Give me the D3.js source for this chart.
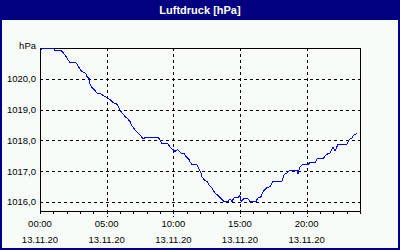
<!DOCTYPE html>
<html>
<head>
<meta charset="utf-8">
<script src="https://cdn.jsdelivr.net/npm/d3@7"></script>
<style>
  html, body { margin: 0; padding: 0; background: #fff; }
  #chart text { font-family: "Liberation Sans", Arial, sans-serif; }
</style>
</head>
<body>
<div id="chart"></div>
<script>
// Time of measurement (decimal hours, 13.11.20)
const hours = [
  0.08, 0.15, 0.98, 1.13, 1.58, 1.73, 1.95, 2.25, 2.7, 2.85,
  3.08, 3.3, 3.45, 3.53, 3.68, 3.75, 3.9, 4.13, 4.28, 4.58,
  4.73, 4.95, 5.1, 5.25, 5.48, 5.7, 5.85, 6.0, 6.15, 6.38,
  6.53, 6.75, 6.9, 7.13, 7.35, 7.5, 7.73, 7.95, 8.85, 9.0,
  9.15, 9.6, 9.75, 9.98, 10.13, 10.28, 10.35, 10.58, 10.8, 10.95,
  11.18, 11.25, 11.4, 11.78, 11.93, 12.08, 12.15, 12.3, 12.53, 12.68,
  12.9, 12.98, 13.13, 13.28, 13.43, 13.65, 13.8, 14.1, 14.25, 14.4,
  14.55, 14.85, 15.0, 15.08, 15.3, 15.6, 15.75, 16.2, 16.35, 16.58,
  16.73, 17.03, 17.25, 17.48, 18.15, 18.3, 18.53, 18.68, 19.28, 19.35,
  19.5, 19.65, 20.1, 20.25, 20.63, 20.78, 21.23, 21.45, 21.75, 21.98,
  22.13, 22.35, 23.03, 23.18, 23.4, 23.55, 23.78
];

// Air pressure in hPa
const pressure = [
  1020.94, 1021.0, 1021.0, 1020.91, 1020.91, 1020.85, 1020.72, 1020.52, 1020.52, 1020.42,
  1020.26, 1020.2, 1020.16, 1020.07, 1020.0, 1019.84, 1019.71, 1019.61, 1019.53, 1019.51,
  1019.46, 1019.41, 1019.38, 1019.32, 1019.22, 1019.2, 1019.12, 1018.99, 1018.89, 1018.77,
  1018.72, 1018.61, 1018.47, 1018.34, 1018.24, 1018.18, 1018.05, 1018.1, 1018.1, 1018.02,
  1017.89, 1017.88, 1017.79, 1017.69, 1017.64, 1017.69, 1017.69, 1017.58, 1017.58, 1017.47,
  1017.37, 1017.3, 1017.2, 1017.2, 1017.07, 1016.94, 1016.81, 1016.72, 1016.66, 1016.55,
  1016.44, 1016.39, 1016.28, 1016.23, 1016.17, 1016.07, 1016.01, 1016.01, 1016.1, 1016.01,
  1016.13, 1016.13, 1016.2, 1016.01, 1016.1, 1016.1, 1016.01, 1016.01, 1016.13, 1016.16,
  1016.33, 1016.46, 1016.49, 1016.66, 1016.66, 1016.88, 1016.94, 1017.01, 1017.01, 1016.91,
  1017.14, 1017.2, 1017.2, 1017.28, 1017.28, 1017.4, 1017.4, 1017.53, 1017.59, 1017.77,
  1017.66, 1017.87, 1017.87, 1018.02, 1018.08, 1018.18, 1018.21
];

// Axis labels
const yTicks = [1016, 1017, 1018, 1019, 1020];
const xTicks = [0, 5, 10, 15, 20];
const xTimeLabels = ['00:00', '05:00', '10:00', '15:00', '20:00'];
const dateLabel = '13.11.20';
const title = 'Luftdruck [hPa]';
const unit = 'hPa';

const width = 400;
const height = 250;
const margin = { top: 48, right: 40, bottom: 39, left: 40 };
const navy = '#000080';
const bg = '#f8fcf8';

const svg = d3.select('#chart').append('svg')
  .attr('width', width)
  .attr('height', height);

// Background + outer frame
svg.append('rect')
  .attr('x', 0).attr('y', 0)
  .attr('width', width).attr('height', height)
  .attr('fill', navy);
svg.append('rect')
  .attr('x', 2).attr('y', 20)
  .attr('width', width - 4).attr('height', height - 22)
  .attr('fill', bg);

// Title
svg.append('text')
  .attr('x', width / 2)
  .attr('y', 14)
  .attr('text-anchor', 'middle')
  .attr('fill', '#fff')
  .attr('font-weight', 'bold')
  .attr('font-size', '11px')
  .text(title);

const xScale = d3.scaleLinear()
  .domain([0, 24])
  .range([margin.left, width - margin.right]);

const yScale = d3.scaleLinear()
  .domain([1015.7, 1021])
  .range([height - margin.bottom, margin.top]);

const x0 = xScale(0), x1 = xScale(24);
const yBottom = yScale(1015.7), yTop = yScale(1021);

// Dashed grid
const grid = svg.append('g')
  .attr('stroke', '#000')
  .attr('stroke-dasharray', '3,3')
  .attr('shape-rendering', 'crispEdges');

grid.selectAll('line.h')
  .data(yTicks)
  .enter()
  .append('line')
  .attr('class', 'h')
  .attr('x1', x0).attr('x2', x1)
  .attr('y1', d => Math.round(yScale(d)) + 0.5)
  .attr('y2', d => Math.round(yScale(d)) + 0.5);

grid.selectAll('line.v')
  .data(xTicks.slice(1))
  .enter()
  .append('line')
  .attr('class', 'v')
  .attr('x1', d => Math.round(xScale(d)) + 0.5)
  .attr('x2', d => Math.round(xScale(d)) + 0.5)
  .attr('y1', yTop).attr('y2', yBottom + 6);

// Plot frame
svg.append('rect')
  .attr('x', x0 + 0.5)
  .attr('y', Math.round(yTop) + 0.5)
  .attr('width', x1 - x0)
  .attr('height', Math.round(yBottom) - Math.round(yTop))
  .attr('fill', 'none')
  .attr('stroke', '#000')
  .attr('shape-rendering', 'crispEdges');

// Hourly ticks on the x axis
const xAxis = d3.axisBottom(xScale)
  .tickValues(d3.range(0, 25))
  .tickSize(3)
  .tickFormat('');

svg.append('g')
  .attr('transform', `translate(0, ${Math.round(yBottom)})`)
  .call(xAxis)
  .call(g => g.select('.domain').remove())
  .selectAll('line')
  .attr('shape-rendering', 'crispEdges');

// x labels: time and date
const xLabels = svg.append('g')
  .attr('font-size', '9.5px')
  .attr('text-anchor', 'middle')
  .attr('fill', '#000');

xLabels.selectAll('text.time')
  .data(xTicks)
  .enter()
  .append('text')
  .attr('class', 'time')
  .attr('x', d => xScale(d))
  .attr('y', 226.5)
  .text((d, i) => xTimeLabels[i]);

xLabels.selectAll('text.date')
  .data(xTicks)
  .enter()
  .append('text')
  .attr('class', 'date')
  .attr('x', d => xScale(d))
  .attr('y', 242.5)
  .text(dateLabel);

// y labels
const yLabels = svg.append('g')
  .attr('font-size', '9.5px')
  .attr('text-anchor', 'end')
  .attr('fill', '#000');

yLabels.selectAll('text')
  .data(yTicks)
  .enter()
  .append('text')
  .attr('x', 36)
  .attr('y', d => yScale(d) + 3.5)
  .text(d => d.toFixed(1).replace('.', ','));

yLabels.append('text')
  .attr('x', 36)
  .attr('y', yTop + 0.5)
  .text(unit);

// Pressure line
const line = d3.line()
  .x((d, i) => xScale(hours[i]))
  .y(d => yScale(d));

svg.append('path')
  .datum(pressure)
  .attr('d', line)
  .attr('fill', 'none')
  .attr('stroke', '#0000ff')
  .attr('stroke-width', 1)
  .attr('shape-rendering', 'crispEdges');
</script>
</body>
</html>
